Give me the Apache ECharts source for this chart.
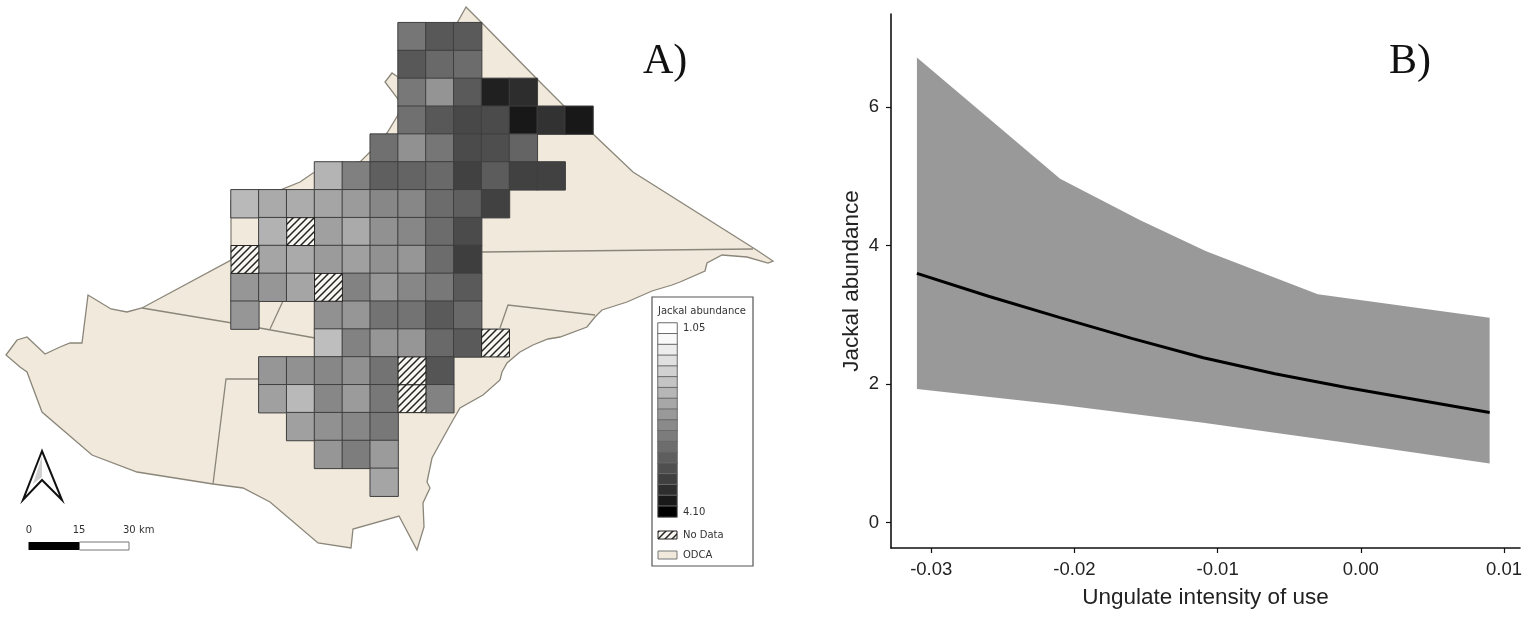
<!DOCTYPE html>
<html><head><meta charset="utf-8">
<script src="https://cdn.jsdelivr.net/npm/echarts@6/dist/echarts.min.js"></script>
<style>html,body{margin:0;padding:0;background:#fff}#c{width:1535px;height:623px}</style>
</head><body><div id="c"></div>
<script>
const _ = null;
// Panel A: abundance per grid cell (rows top to bottom, 13 columns)
const abundanceRows = [
 [_,_,_,_,_,_,2.69,3.05,3.02,_,_,_,_],
 [_,_,_,_,_,_,3.05,2.84,2.81,_,_,_,_],
 [_,_,_,_,_,_,2.66,2.33,3.02,3.72,3.56,_,_],
 [_,_,_,_,_,_,2.76,3.05,3.24,3.20,3.81,3.50,3.81],
 [_,_,_,_,_,2.76,2.37,2.69,3.20,3.17,2.90,_,_],
 [_,_,_,1.95,2.57,2.96,2.90,2.84,3.32,3.00,3.32,3.32,_],
 [1.89,2.07,2.04,2.13,2.25,2.49,2.49,2.81,2.96,3.32,_,_,_],
 [_,1.97,_,2.19,2.07,2.37,2.49,2.81,3.20,_,_,_,_],
 [_,2.13,2.07,2.25,2.19,2.37,2.31,2.81,3.36,_,_,_,_],
 [2.31,2.31,2.13,_,2.55,2.31,2.49,2.66,3.02,_,_,_,_],
 [2.31,_,_,2.37,2.31,2.72,2.72,3.02,2.84,_,_,_,_],
 [_,_,_,1.83,2.55,2.31,2.31,2.84,3.02,_,_,_,_],
 [_,2.31,2.37,2.49,2.37,2.72,_,3.08,_,_,_,_,_],
 [_,2.19,1.89,2.49,2.25,2.66,_,2.55,_,_,_,_,_],
 [_,_,2.19,2.37,2.49,2.66,_,_,_,_,_,_,_],
 [_,_,_,2.31,2.60,2.25,_,_,_,_,_,_,_],
 [_,_,_,_,_,2.13,_,_,_,_,_,_,_]
];
const noDataCells = [[2,7],[0,8],[3,9],[9,11],[6,12],[6,13]];
const legendSteps = [1.05,1.12,1.27,1.42,1.60,1.75,1.92,2.10,2.27,2.45,2.62,2.80,2.98,3.16,3.35,3.55,3.80,4.10];
const scaleLow = 1.05, scaleHigh = 4.10;
const legendLow = '1.05', legendHigh = '4.10';
const colNames = ['c0','c1','c2','c3','c4','c5','c6','c7','c8','c9','c10','c11','c12'];
const rowNames = ['r0','r1','r2','r3','r4','r5','r6','r7','r8','r9','r10','r11','r12','r13','r14','r15','r16'];
// Map outline and inner boundaries, in map units
const territory = [[466,7],[482,23],[537,79],[565,107],[593,134],[633,172],[755,249],[773,261],[768,263],[747,257],[722,255],[707,263],[705,271],[680,282],[672,285],[652,291],[627,302],[602,310],[595,317],[587,327],[560,337],[548,339],[533,345],[520,352],[507,363],[502,372],[500,380],[483,395],[460,408],[453,420],[438,447],[432,458],[427,482],[430,488],[423,503],[424,527],[417,550],[399,516],[353,529],[351,548],[318,543],[270,502],[243,488],[213,484],[137,472],[92,455],[42,412],[27,372],[20,367],[6,355],[17,340],[27,337],[45,354],[60,347],[70,343],[82,343],[88,295],[111,309],[127,312],[142,308],[231,260],[231,200],[280,190],[300,182],[313,173],[340,165],[360,162],[370,152],[387,133],[398,115],[400,105],[398,99],[385,82],[392,73],[398,77],[420,60],[457,23]];
const boundaries = [
 [[142,308],[232,323],[315,338]],
 [[270,329],[283,301]],
 [[213,484],[226,379],[259,379]],
 [[482,252],[753,249]],
 [[500,328],[508,305],[595,315]]
];
// Panel B
const xTicks = [-0.03,-0.02,-0.01,0,0.01];
const yTicks = [0,2,4,6];
const upperBand = [[-0.031,6.72],[-0.021,4.97],[-0.0154,4.37],[-0.0108,3.92],[-0.003,3.30],[0.009,2.96]];
const lowerBand = [[-0.031,1.93],[-0.021,1.70],[-0.011,1.44],[-0.001,1.15],[0.009,0.85]];
const meanLine = [[-0.031,3.60],[-0.026,3.27],[-0.021,2.96],[-0.016,2.66],[-0.011,2.38],[-0.006,2.15],[-0.001,1.95],[0.004,1.77],[0.009,1.59]];

const LINE = '#8b867a', TAN = '#f0e9dc', CELL = '#3f3f3f';
const tile = document.createElement('canvas'); tile.width = 7; tile.height = 7;
const t = tile.getContext('2d'); t.fillStyle = '#f8f6f0'; t.fillRect(0,0,7,7);
t.strokeStyle = '#222'; t.lineWidth = 1.5;
[[-7,14,14,-7],[-7,7,7,-7],[0,14,14,0]].forEach(a=>{t.beginPath();t.moveTo(a[0],a[1]);t.lineTo(a[2],a[3]);t.stroke();});
const hatch = {image: tile, repeat: 'repeat'};

const cellData = [];
abundanceRows.forEach((row,r)=>row.forEach((v,c)=>{ if(v!==null) cellData.push([c,r,v]); }));
const legendData = legendSteps.map((v,i)=>[0,i,v]);
const ax = (g)=>({gridIndex:g,show:false});
const txt = (x,y,s,size,opt)=>({type:'text',x,y,silent:true,z:20,style:Object.assign({text:s,font:size+'px "DejaVu Sans"',fill:'#333',textVerticalAlign:'middle'},opt||{})});
const poly = (pts,style)=>({type:'polygon',silent:true,z:20,shape:{points:pts},style});

const chart = echarts.init(document.getElementById('c'),null,{renderer:'canvas'});
chart.setOption({
 animation:false,
 backgroundColor:'#fff',
 grid:[
  {left:0,top:0,width:1535,height:623},
  {left:231,top:22.7,width:362,height:473.5},
  {left:658,top:323,width:19,height:194},
  {left:891,top:14,width:629,height:534}
 ],
 xAxis:[
  {type:'value',gridIndex:0,min:0,max:1535,show:false},
  Object.assign(ax(1),{type:'category',data:colNames}),
  Object.assign(ax(2),{type:'category',data:['step']}),
  {type:'value',gridIndex:3,min:-0.03281,max:0.01112,name:'Ungulate intensity of use',nameLocation:'middle',nameGap:38,
   nameTextStyle:{fontFamily:'Liberation Sans',fontSize:22.5,color:'#222'},
   axisLine:{onZero:false,lineStyle:{color:'#111',width:1.6}},
   axisTick:{customValues:xTicks,length:5,lineStyle:{color:'#111',width:1.2}},
   axisLabel:{customValues:xTicks,margin:12,fontFamily:'Liberation Sans',fontSize:18.5,color:'#222',formatter:v=>v.toFixed(2)},
   splitLine:{show:false}}
 ],
 yAxis:[
  {type:'value',gridIndex:0,min:0,max:623,inverse:true,show:false},
  Object.assign(ax(1),{type:'category',data:rowNames,inverse:true}),
  Object.assign(ax(2),{type:'category',data:legendSteps.map(String),inverse:true}),
  {type:'value',gridIndex:3,min:-0.37,max:7.35,name:'Jackal abundance',nameLocation:'middle',nameGap:27.5,
   nameTextStyle:{fontFamily:'Liberation Sans',fontSize:22.5,color:'#222'},
   axisLine:{onZero:false,lineStyle:{color:'#111',width:1.6}},
   axisTick:{customValues:yTicks,length:5,lineStyle:{color:'#111',width:1.2}},
   axisLabel:{customValues:yTicks,margin:12,fontFamily:'Liberation Sans',fontSize:18.5,color:'#222'},
   splitLine:{show:false}}
 ],
 visualMap:[{type:'continuous',show:false,min:scaleLow,max:scaleHigh,dimension:2,seriesIndex:[2,4],inRange:{color:['#ffffff','#000000']}}],
 series:[
  {type:'custom',xAxisIndex:0,yAxisIndex:0,silent:true,clip:false,z:1,data:[[0,0]],
   renderItem:(p,api)=>({type:'polygon',shape:{points:territory.map(q=>api.coord(q))},style:{fill:TAN,stroke:LINE,lineWidth:1.3}})},
  {type:'custom',xAxisIndex:0,yAxisIndex:0,silent:true,clip:false,z:2,data:boundaries.map((b,i)=>[i,0]),
   renderItem:(p,api)=>({type:'polyline',shape:{points:boundaries[p.dataIndex].map(q=>api.coord(q))},style:{fill:'none',stroke:LINE,lineWidth:1.3}})},
  {type:'heatmap',xAxisIndex:1,yAxisIndex:1,silent:true,z:3,data:cellData,itemStyle:{borderColor:CELL,borderWidth:1},emphasis:{disabled:true}},
  {type:'custom',xAxisIndex:1,yAxisIndex:1,silent:true,z:4,data:noDataCells,encode:{x:0,y:1},
   renderItem:(p,api)=>{const c=api.coord([api.value(0),api.value(1)]),s=api.size([1,1]);
    return {type:'rect',shape:{x:c[0]-s[0]/2,y:c[1]-s[1]/2,width:s[0],height:s[1]},style:{fill:hatch,stroke:'#222',lineWidth:1}};}},
  {type:'heatmap',xAxisIndex:2,yAxisIndex:2,silent:true,z:5,data:legendData,itemStyle:{borderColor:'#6a6a6a',borderWidth:1},emphasis:{disabled:true}},
  {type:'custom',xAxisIndex:3,yAxisIndex:3,silent:true,z:6,data:[[0,0]],
   renderItem:(p,api)=>({type:'polygon',shape:{points:upperBand.concat(lowerBand.slice().reverse()).map(q=>api.coord(q))},style:{fill:'#999999'}})},
  {type:'line',xAxisIndex:3,yAxisIndex:3,silent:true,z:7,data:meanLine,showSymbol:false,lineStyle:{color:'#000',width:3}}
 ],
 graphic:[
  {type:'rect',silent:true,z:20,shape:{x:652,y:297,width:101,height:269},style:{fill:'none',stroke:'#555',lineWidth:1.2}},
  txt(658,311,'Jackal abundance',10),
  txt(683,328,legendLow,10),
  txt(683,512,legendHigh,10),
  {type:'rect',silent:true,z:20,shape:{x:658,y:531,width:19,height:8},style:{fill:hatch,stroke:'#222',lineWidth:1}},
  txt(683,535,'No Data',10),
  {type:'rect',silent:true,z:20,shape:{x:658,y:551,width:19,height:8},style:{fill:TAN,stroke:'#777',lineWidth:1}},
  txt(683,555,'ODCA',10),
  poly([[42,451],[23,500],[42,480],[62,500]],{fill:'#fff',stroke:'#111',lineWidth:2,lineJoin:'miter'}),
  poly([[42,456],[33,484],[42,477]],{fill:'#cfcfcf'}),
  {type:'rect',silent:true,z:20,shape:{x:28.5,y:542,width:51,height:8},style:{fill:'#000'}},
  {type:'rect',silent:true,z:20,shape:{x:79.5,y:542,width:49.5,height:8},style:{fill:'#fff',stroke:'#777',lineWidth:1}},
  txt(29,530,'0',10,{textAlign:'center'}),
  txt(79,530,'15',10,{textAlign:'center'}),
  txt(123,530,'30 km',10),
  txt(643,62,'A)',42,{font:'42px "Liberation Serif"',fill:'#111'}),
  txt(1389,62,'B)',42,{font:'42px "Liberation Serif"',fill:'#111'})
 ]
});
</script></body></html>
